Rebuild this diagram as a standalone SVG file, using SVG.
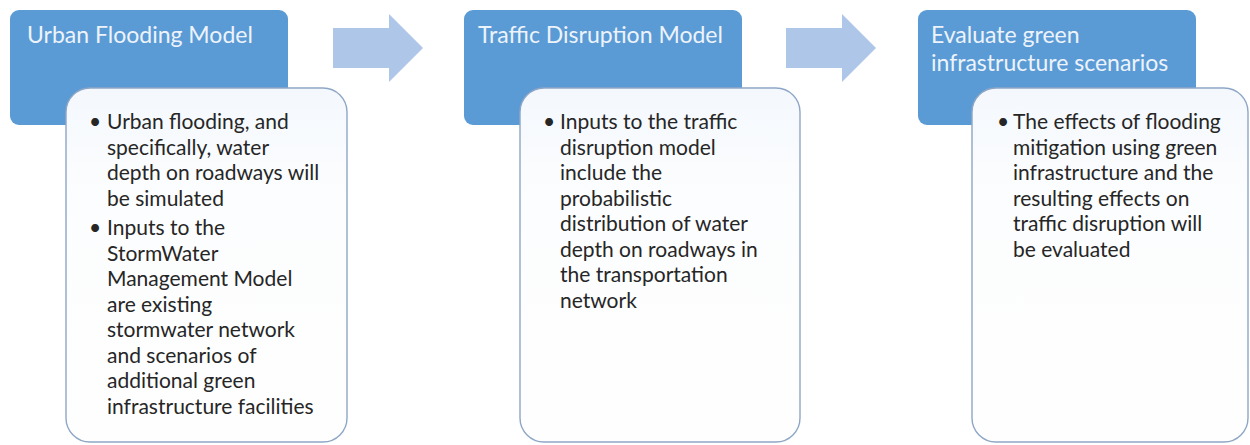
<svg xmlns="http://www.w3.org/2000/svg" width="1250" height="445" viewBox="0 0 1250 445">
  <defs>
    <linearGradient id="cardFill" x1="0" y1="0" x2="0" y2="1">
      <stop offset="0" stop-color="#f4f8fd"/>
      <stop offset="0.3" stop-color="#fcfdfe"/>
      <stop offset="1" stop-color="#fefefe"/>
    </linearGradient>
    <style>
      .head { fill: #5b9bd5; }
      .title { font-family: Lato, "Open Sans", sans-serif; font-size: 23px; fill: #edf3fb; }
      .card { fill: url(#cardFill); stroke: #8ea6c6; stroke-width: 1.4; }
      .body { font-family: Lato, "Open Sans", sans-serif; font-size: 21px; fill: #262626; }
      .arrow { fill: #aec6e8; }
    </style>
  </defs>
  <rect width="1250" height="445" fill="#ffffff"/>

  <!-- step 1 -->
  <g id="step-urban-flooding">
    <rect class="head" x="10" y="10" width="278" height="115" rx="9"/>
    <text class="title" x="27" y="43">Urban Flooding Model</text>
    <rect class="card" x="66" y="88" width="281" height="354" rx="24"/>
    <g class="body">
      <text x="89" y="129">•</text>
      <text x="107" y="129">Urban flooding, and</text>
      <text x="107" y="154.5">specifically, water</text>
      <text x="107" y="180">depth on roadways will</text>
      <text x="107" y="205.5">be simulated</text>
      <text x="89" y="235">•</text>
      <text x="107" y="235">Inputs to the</text>
      <text x="107" y="260.5">StormWater</text>
      <text x="107" y="286">Management Model</text>
      <text x="107" y="311.5">are existing</text>
      <text x="107" y="337">stormwater network</text>
      <text x="107" y="362.5">and scenarios of</text>
      <text x="107" y="388">additional green</text>
      <text x="107" y="413.5">infrastructure facilities</text>
    </g>
  </g>

  <!-- step 2 -->
  <g id="step-traffic-disruption">
    <rect class="head" x="464" y="10" width="278" height="115" rx="9"/>
    <text class="title" x="478" y="43">Traffic Disruption Model</text>
    <rect class="card" x="520" y="88" width="280" height="354" rx="24"/>
    <g class="body">
      <text x="543" y="129">•</text>
      <text x="560" y="129">Inputs to the traffic</text>
      <text x="560" y="154.5">disruption model</text>
      <text x="560" y="180">include the</text>
      <text x="560" y="205.5">probabilistic</text>
      <text x="560" y="231">distribution of water</text>
      <text x="560" y="256.5">depth on roadways in</text>
      <text x="560" y="282">the transportation</text>
      <text x="560" y="307.5">network</text>
    </g>
  </g>

  <!-- step 3 -->
  <g id="step-evaluate-scenarios">
    <rect class="head" x="918" y="10" width="278" height="115" rx="9"/>
    <text class="title" x="931" y="43">Evaluate green</text>
    <text class="title" x="931" y="71">infrastructure scenarios</text>
    <rect class="card" x="972" y="88" width="276" height="354" rx="24"/>
    <g class="body">
      <text x="997" y="129">•</text>
      <text x="1013" y="129">The effects of flooding</text>
      <text x="1013" y="154.5">mitigation using green</text>
      <text x="1013" y="180">infrastructure and the</text>
      <text x="1013" y="205.5">resulting effects on</text>
      <text x="1013" y="231">traffic disruption will</text>
      <text x="1013" y="256.5">be evaluated</text>
    </g>
  </g>

  <!-- flow arrows between steps -->
  <g id="connectors">
    <path class="arrow" d="M333,28 H389 V14 L423,48 L389,82 V68 H333 Z"/>
    <path class="arrow" d="M786,28 H842 V14 L876,48 L842,82 V68 H786 Z"/>
  </g>
</svg>
